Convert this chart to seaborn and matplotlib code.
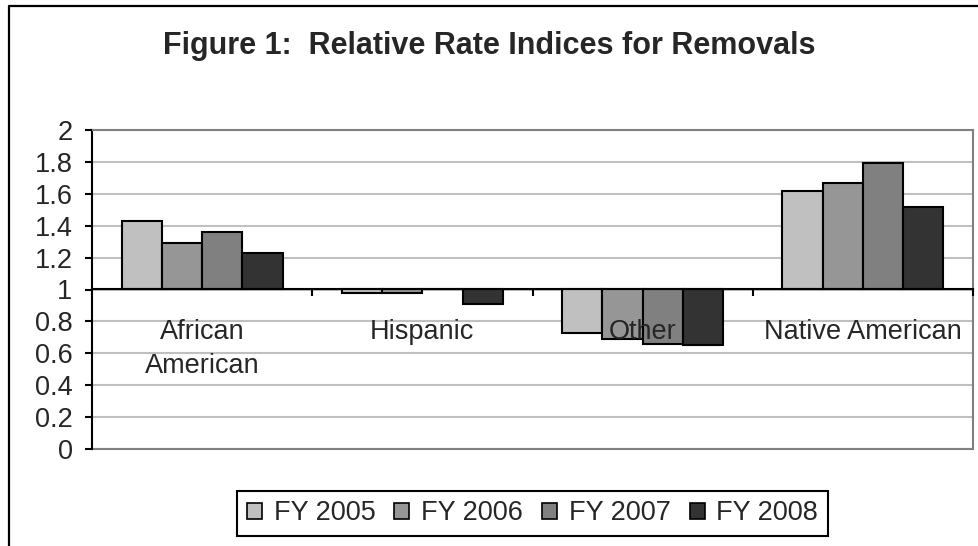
import numpy as np
import pandas as pd
import matplotlib
matplotlib.use("Agg")
import matplotlib.pyplot as plt
from matplotlib.lines import Line2D
from matplotlib.patches import Patch
import seaborn as sns

# ---- data ----
categories = ["African American", "Hispanic", "Other", "Native American"]
category_labels = ["African\nAmerican", "Hispanic", "Other", "Native American"]
years = ["FY 2005", "FY 2006", "FY 2007", "FY 2008"]
fy2005 = [1.43, 0.98, 0.73, 1.62]
fy2006 = [1.29, 0.98, 0.69, 1.67]
fy2007 = [1.36, 1.00, 0.66, 1.79]
fy2008 = [1.23, 0.91, 0.65, 1.52]
colors = ["#C0C0C0", "#969696", "#808080", "#333333"]
baseline = 1.0
yticks = [0, 0.2, 0.4, 0.6, 0.8, 1, 1.2, 1.4, 1.6, 1.8, 2]
ytick_labels = ["0", "0.2", "0.4", "0.6", "0.8", "1", "1.2", "1.4", "1.6", "1.8", "2"]
title = "Figure 1:  Relative Rate Indices for Removals"

rows = []
for yr, vals in zip(years, [fy2005, fy2006, fy2007, fy2008]):
    for c, v in zip(categories, vals):
        rows.append({"category": c, "year": yr, "value": v, "delta": v - baseline})
df = pd.DataFrame(rows)

sns.set_style("white")
plt.rcParams["font.family"] = ["Liberation Sans", "DejaVu Sans"]

W, H = 979, 546
fig = plt.figure(figsize=(W / 100, H / 100), dpi=100)
ax = fig.add_axes([92 / W, 1 - 449 / H, (973 - 92) / W, (449 - 130) / H])

sns.barplot(data=df, x="category", y="delta", hue="year", order=categories,
            hue_order=years, palette=colors, width=0.73, errorbar=None,
            edgecolor="black", linewidth=1.5, bottom=baseline, legend=False,
            ax=ax, zorder=2)

ax.set_ylim(0, 2)
ax.set_xlim(-0.5, len(categories) - 0.5)
ax.set_xlabel("")
ax.set_ylabel("")

# grid lines drawn beneath the bars; axis (with labels) above bars
ax.grid(False)
for yv in yticks:
    ax.axhline(yv, color="#C0C0C0", linewidth=1.5, zorder=0.5)
ax.set_axisbelow(False)

# spines
ax.spines["bottom"].set_position(("data", baseline))
ax.spines["bottom"].set_color("black")
ax.spines["bottom"].set_linewidth(1.5)
ax.spines["left"].set_color("black")
ax.spines["left"].set_linewidth(1.5)
for s in ["top", "right"]:
    ax.spines[s].set_visible(True)
    ax.spines[s].set_color("#808080")
    ax.spines[s].set_linewidth(1.5)
ax.axhline(0, color="#808080", linewidth=1.5, clip_on=False, zorder=1)

# y ticks
ax.set_yticks(yticks)
ax.set_yticklabels(ytick_labels)
ax.tick_params(axis="y", which="major", direction="out", length=5, width=1.5,
               color="black", pad=9, labelsize=19.5, left=True)

# x ticks: labels at centers, marks at boundaries
ax.set_xticks(range(len(categories)))
ax.set_xticklabels(category_labels, linespacing=1.4)
ax.set_xticks([i + 0.5 for i in range(len(categories))], minor=True)
ax.tick_params(axis="x", which="major", length=0, pad=21, labelsize=19.5, bottom=True)
ax.tick_params(axis="x", which="minor", direction="out", length=5, width=1.5,
               color="black", bottom=True)

# legend
handles = [Patch(facecolor=c, edgecolor="black", linewidth=1.2, label=y)
           for c, y in zip(colors, years)]
leg = ax.legend(handles=handles, loc="center",
                bbox_to_anchor=(532.5 / W, 1 - 513.5 / H),
                bbox_transform=fig.transFigure, ncol=4, frameon=True,
                fontsize=19.5, handlelength=0.55, handleheight=0.55,
                handletextpad=0.44, columnspacing=0.7, borderpad=0.35,
                fancybox=False, edgecolor="black", framealpha=1)
leg.get_frame().set_linewidth(1.5)

# title
fig.text(0.5, 1 - 54 / H, title, ha="center", va="baseline",
         fontsize=22, fontweight="bold")

# outer chart border (left and top)
fig.add_artist(Line2D([9 / W, 9 / W], [0, 1 - 6 / H], transform=fig.transFigure,
                      color="black", linewidth=1.6))
fig.add_artist(Line2D([9 / W, 1], [1 - 6 / H, 1 - 6 / H], transform=fig.transFigure,
                      color="black", linewidth=1.6))

fig.savefig("out.png", dpi=100)
